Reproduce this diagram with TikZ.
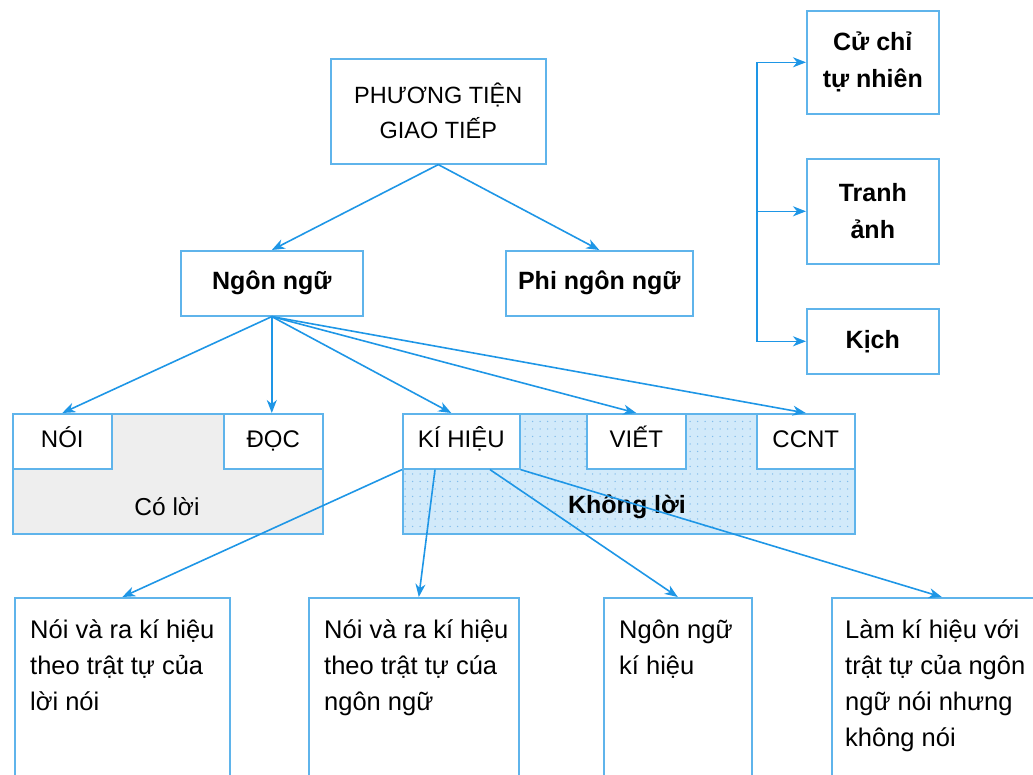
\documentclass[tikz,border=0pt]{standalone}
\usepackage{fontspec}
\setmainfont{Liberation Sans}
\usetikzlibrary{arrows.meta,patterns.meta,positioning,calc}
\definecolor{lineblue}{RGB}{30,150,230}
\definecolor{edgeblue}{RGB}{95,180,235}
\definecolor{greyfill}{RGB}{238,238,238}
\definecolor{bluefill}{RGB}{210,234,250}
\definecolor{dotblue}{RGB}{130,188,235}

\begin{document}
\begin{tikzpicture}[x=1pt,y=-1pt,
  box/.style={draw=edgeblue,line width=1.6pt,fill=white,anchor=north west,
    inner sep=0pt,align=center,font=\fontsize{24}{35}\selectfont},
  tab/.style={box,minimum height=55pt,text height=17pt,text depth=5pt},
  headbox/.style={box,font=\fontsize{25}{37}\selectfont\bfseries},
  lowbox/.style={box,minimum height=200pt},
  lowtext/.style={anchor=north west,align=left,inner xsep=16pt,inner ysep=23pt,
    font=\fontsize{25.5}{36}\selectfont},
  arr/.style={->,>={Stealth[length=13pt,width=10pt,inset=4pt]},draw=lineblue,line width=1.6pt}]
  \useasboundingbox (0,0) rectangle (1033,774);
  \clip (0,0) rectangle (1033,774);

  \node[box,minimum width=215pt,minimum height=105pt,font=\fontsize{23.5}{35}\selectfont] (pt) at (330,58) {PHƯƠNG TIỆN\\GIAO TIẾP};
  \node[headbox,minimum width=182pt,minimum height=65pt] (ngu) at (180,250) {Ngôn ngữ};
  \node[headbox,minimum width=187pt,minimum height=65pt] (phi) at (505,250) {Phi ngôn ngữ};

  \node[headbox,minimum width=132pt,minimum height=103pt] (cu) at (806,10) {Cử chỉ\\tự nhiên};
  \node[headbox,minimum width=132pt,minimum height=105pt] (tranh) at (806,158) {Tranh\\ảnh};
  \node[headbox,minimum width=132pt,minimum height=65pt] (kich) at (806,308) {Kịch};
  \coordinate (brk) at (757,0);

  \node[box,fill=greyfill,minimum width=310pt,minimum height=120pt] (colo) at (12,413) {};
  \node[tab,minimum width=99pt] (noi) at (12,413) {NÓI};
  \node[tab,minimum width=99pt] (doc) at (223,413) {ĐỌC};
  \node[font=\fontsize{24.5}{35}\selectfont] (cololabel) at (167,507) {Có lời};

  \node[box,preaction={fill=bluefill},pattern={Dots[distance=7.5pt,radius=0.75pt]},pattern color=dotblue,
    minimum width=452pt,minimum height=120pt] (khong) at (402,413) {};
  \node[tab,minimum width=117pt] (kh) at (402,413) {KÍ HIỆU};
  \node[tab,minimum width=99pt] (viet) at (586,413) {VIẾT};
  \node[tab,minimum width=98pt] (ccnt) at (756,413) {CCNT};
  \node[font=\fontsize{25}{35}\selectfont\bfseries] (khonglabel) at (627,507) {Không lời};

  \node[lowbox,minimum width=215pt,label={[lowtext]north west:Nói và ra kí hiệu\\theo trật tự của\\lời nói}] (b1) at (14,597) {};
  \node[lowbox,minimum width=210pt,label={[lowtext]north west:Nói và ra kí hiệu\\theo trật tự cúa\\ngôn ngữ}] (b2) at (308,597) {};
  \node[lowbox,minimum width=148pt,label={[lowtext]north west:Ngôn ngữ\\kí hiệu}] (b3) at (603,597) {};
  \node[lowbox,minimum width=220pt,label={[lowtext,inner xsep=14pt]north west:Làm kí hiệu với\\trật tự của ngôn\\ngữ nói nhưng\\không nói}] (b4) at (831,597) {};

  \draw[arr] (pt.south) -- (ngu.north);
  \draw[arr] (pt.south) -- (phi.north);
  \draw[arr] (ngu.south) -- (noi.north);
  \draw[arr] (ngu.south) -- (ngu.south |- doc.north);
  \draw[arr] (ngu.south) -- ([xshift=-10pt]kh.north);
  \draw[arr] (ngu.south) -- (viet.north);
  \draw[arr] (ngu.south) -- (ccnt.north);

  \draw[arr] (kh.south west) -- (b1.north);
  \draw[arr] ([xshift=33pt]kh.south west) -- ([xshift=5pt]b2.north);
  \draw[arr] ([xshift=88pt]kh.south west) -- (b3.north);
  \draw[arr] (kh.south east) -- (b4.north);

  \draw[arr,<->] (cu.west) -- (cu.west -| brk) -- (kich.west -| brk) -- (kich.west);
  \draw[arr] (tranh.west -| brk) -- (tranh.west);
\end{tikzpicture}
\end{document}
